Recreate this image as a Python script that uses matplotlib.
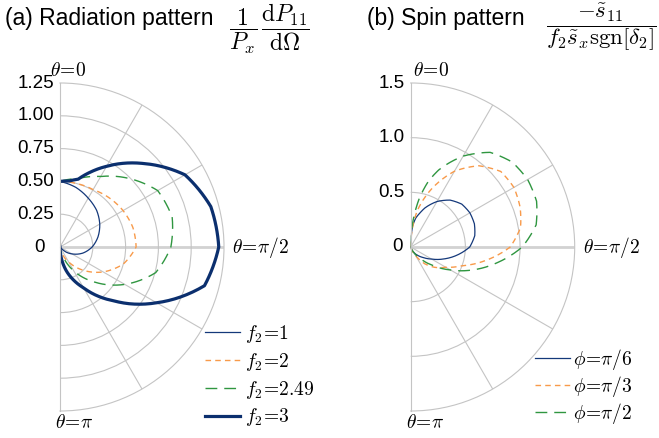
import numpy as np
import matplotlib
matplotlib.use("Agg")
import matplotlib.pyplot as plt

plt.rcParams['font.family'] = ['Liberation Sans', 'DejaVu Sans']
plt.rcParams['mathtext.fontset'] = 'cm'
plt.rcParams['lines.scale_dashes'] = False

# (a) radiation pattern: polar angle (deg) and radius
theta_f1 = [0, 15, 30, 45, 60, 75, 90, 105, 120, 130, 140]
r_f1 = [0.50, 0.47, 0.43, 0.395, 0.35, 0.30, 0.245, 0.18, 0.105, 0.06, 0.0]
theta_f2 = [0, 15, 30, 45, 60, 75, 90, 105, 120, 135, 150, 165, 175]
r_f2 = [0.50, 0.50, 0.505, 0.53, 0.555, 0.575, 0.58, 0.50, 0.38, 0.25, 0.13, 0.04, 0.0]
theta_f249 = [0, 15, 30, 45, 60, 75, 90, 105, 120, 135, 150, 165, 180]
r_f249 = [0.50, 0.54, 0.62, 0.74, 0.86, 0.885, 0.845, 0.755, 0.57, 0.38, 0.21, 0.05, 0.0]
theta_f3 = [0, 8, 15, 22, 30, 45, 60, 75, 90, 105, 120, 135, 150, 165, 180]
r_f3 = [0.50, 0.508, 0.535, 0.615, 0.71, 0.90, 1.10, 1.19, 1.21, 1.14, 0.85, 0.58, 0.36, 0.19, 0.0]
labels_a = [r'$f_2\!=\!1$', r'$f_2\!=\!2$', r'$f_2\!=\!2.49$', r'$f_2\!=\!3$']
rticks_a = [0, 0.25, 0.5, 0.75, 1.0, 1.25]
rlabels_a = ['0', '0.25', '0.50', '0.75', '1.00', '1.25']

# (b) spin pattern
theta_p6 = [0, 5, 10, 15, 20, 30, 40, 50, 60, 70, 80, 90, 100, 110, 120, 130, 140, 150, 160, 170]
r_p6 = [0, 0.19, 0.27, 0.32, 0.38, 0.48, 0.56, 0.61, 0.625, 0.62, 0.595, 0.54, 0.43, 0.32,
        0.22, 0.15, 0.10, 0.06, 0.03, 0]
theta_p3 = [0, 10, 20, 30, 40, 50, 60, 70, 80, 90, 100, 110, 120, 130, 140, 150, 160, 170]
r_p3 = [0, 0.33, 0.57, 0.80, 0.97, 1.075, 1.09, 1.065, 1.02, 0.91, 0.70, 0.50, 0.37, 0.29,
        0.20, 0.09, 0.03, 0]
theta_p2 = [0, 5, 10, 15, 20, 30, 40, 50, 60, 70, 80, 90, 100, 110, 120, 130, 140, 150, 165]
r_p2 = [0, 0.24, 0.45, 0.62, 0.75, 0.96, 1.13, 1.21, 1.235, 1.225, 1.165, 1.02, 0.81, 0.61,
        0.42, 0.26, 0.14, 0.06, 0]
labels_b = [r'$\phi\!=\!\pi/6$', r'$\phi\!=\!\pi/3$', r'$\phi\!=\!\pi/2$']
rticks_b = [0, 0.5, 1.0, 1.5]
rlabels_b = ['0', '0.5', '1.0', '1.5']

BLUE = '#14387a'
NAVY = '#0b2f6e'
ORANGE = '#f89a4a'
GREEN = '#2f9640'
GRID = '#c4c4c4'

W, H = 659, 438
fig = plt.figure(figsize=(W / 100, H / 100), dpi=100)


def half_polar(cx, cy, R, rticks, rlabels, zero_shift):
    # square axes box; the half-disc wedge is centred inside it
    ax = fig.add_axes([(cx - R / 2) / W, (H - cy - R) / H, 2 * R / W, 2 * R / H],
                      projection='polar')
    ax.set_theta_zero_location('N')
    ax.set_theta_direction(-1)
    ax.set_thetamin(0)
    ax.set_thetamax(180)
    ax.set_rlim(0, rticks[-1])
    ax.set_rticks(rticks[1:-1])
    ax.set_yticklabels([])
    ax.set_thetagrids([30, 60, 90, 120, 150], labels=[''] * 5)
    ax.grid(color=GRID, lw=0.8)
    ax.tick_params(length=0)
    for s in ax.spines.values():
        s.set_color(GRID)
        s.set_linewidth(0.8)
    for tick in ax.xaxis.get_major_ticks():
        if np.isclose(tick.get_loc(), np.pi / 2):
            tick.gridline.set_linewidth(2.0)
            tick.gridline.set_color('#d2d2d2')
    for r, lab in zip(rticks, rlabels):
        dx = zero_shift if r == 0 else -6
        ax.annotate(lab, xy=(0, r), xytext=(dx, 0), textcoords='offset pixels',
                    ha='right', va='center', fontsize=13.5)
    return ax


def theta_labels(ax, rmax, top_dx, bot_dx):
    ax.annotate(r'$\theta\!=\!0$', xy=(0, rmax), xytext=(top_dx, 3),
                textcoords='offset pixels', ha='left', va='bottom', fontsize=14)
    ax.annotate(r'$\theta\!=\!\pi/2$', xy=(np.pi / 2, rmax), xytext=(8, 0),
                textcoords='offset pixels', ha='left', va='center', fontsize=14)
    ax.annotate(r'$\theta\!=\!\pi$', xy=(np.pi, rmax), xytext=(bot_dx, -3),
                textcoords='offset pixels', ha='left', va='top', fontsize=14)


def curve(ax, theta_deg, r, **kw):
    line, = ax.plot(np.deg2rad(theta_deg), r, **kw)
    # let the polar transform bend each segment instead of drawing chords
    line.get_path()._interpolation_steps = 24
    return line


# ---- (a) ----
ax1 = half_polar(60, 247, 164, rticks_a, rlabels_a, -15)
theta_labels(ax1, rticks_a[-1], -10, -5)
h1 = curve(ax1, theta_f1, r_f1, color=BLUE, lw=0.9)
h2 = curve(ax1, theta_f2, r_f2, color=ORANGE, lw=1.0, ls=(0, (4.0, 3.0)))
h3 = curve(ax1, theta_f249, r_f249, color=GREEN, lw=1.0, ls=(0, (8.5, 5.0)))
h4 = curve(ax1, theta_f3, r_f3, color=NAVY, lw=2.3)
ax1.legend([h1, h2, h3, h4], labels_a, loc='upper left',
           bbox_to_anchor=(205 / W, 1 - 323 / H), bbox_transform=fig.transFigure,
           frameon=False, fontsize=14, handlelength=1.8, handletextpad=0.25,
           labelspacing=0.3, borderpad=0, borderaxespad=0)

# ---- (b) ----
ax2 = half_polar(410.7, 247, 164, rticks_b, rlabels_b, -8)
theta_labels(ax2, rticks_b[-1], 2, -5)
g1 = curve(ax2, theta_p6, r_p6, color=BLUE, lw=0.9)
g2 = curve(ax2, theta_p3, r_p3, color=ORANGE, lw=1.0, ls=(0, (4.0, 3.0)))
g3 = curve(ax2, theta_p2, r_p2, color=GREEN, lw=1.0, ls=(0, (8.5, 5.0)))
ax2.legend([g1, g2, g3], labels_b, loc='upper left',
           bbox_to_anchor=(535 / W, 1 - 347 / H), bbox_transform=fig.transFigure,
           frameon=False, fontsize=14, handlelength=1.8, handletextpad=0.15,
           labelspacing=0.1, borderpad=0, borderaxespad=0)

# titles: sans text plus a separate maths fraction
fig.text(5 / W, 1 - 25 / H, '(a) Radiation pattern', ha='left', va='baseline', fontsize=16.5)
fig.text(229 / W, 1 - 2 / H,
         r'$\dfrac{1}{P_x}\,\dfrac{\mathrm{d}P_{11}}{\mathrm{d}\Omega}$',
         ha='left', va='top', fontsize=17)
fig.text(367 / W, 1 - 25 / H, '(b) Spin pattern', ha='left', va='baseline', fontsize=16.5)
fig.text(546 / W, 1 - 2 / H,
         r'$\dfrac{-\tilde{s}_{11}}{f_2\tilde{s}_x\mathrm{sgn}[\delta_2]}$',
         ha='left', va='top', fontsize=16.5)

fig.savefig('out.png', dpi=100)
